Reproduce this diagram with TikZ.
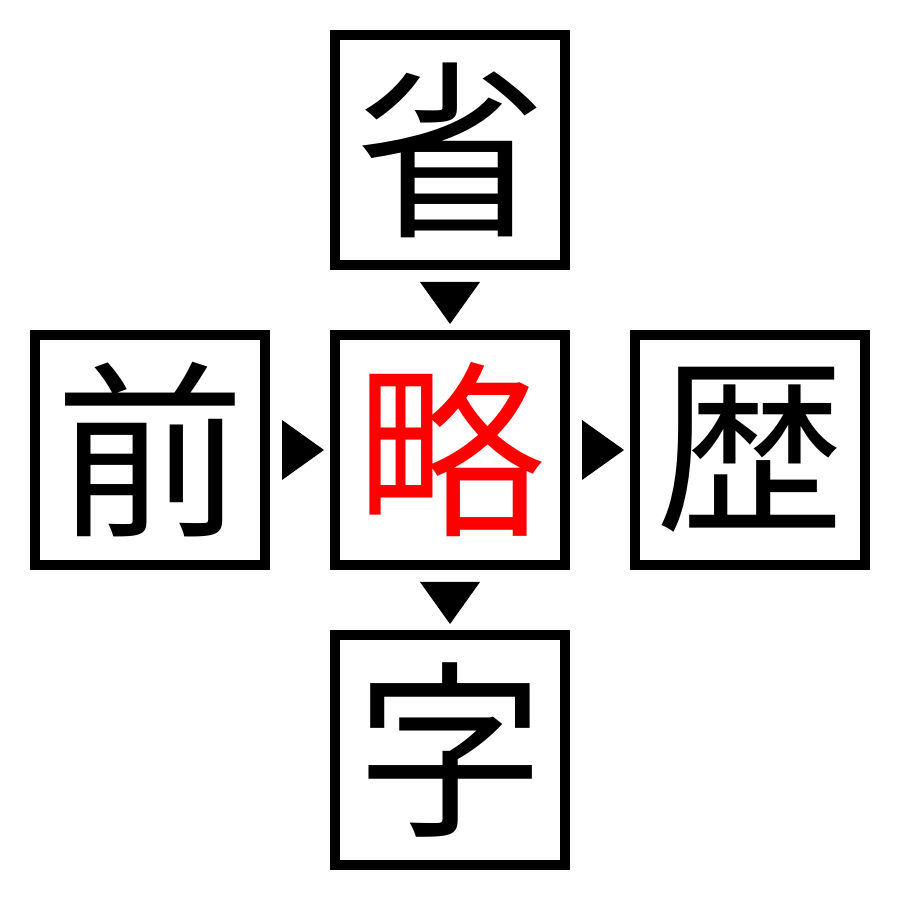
\documentclass[tikz,border=0pt]{standalone}
\usepackage{fontspec}
\newfontfamily\jpfont{Noto Sans CJK JP}
\usetikzlibrary{positioning,calc}

\begin{document}
\begin{tikzpicture}[box/.style={draw=black,line width=1mm,minimum size=2.3cm,inner sep=0pt,
    font=\jpfont\fontsize{54}{54}\selectfont}, node distance=0.6cm]
\useasboundingbox (0,0) rectangle (9,9);
\node[box]    (mid)  at (4.5,4.5)  {\textcolor{red}{略}};
\node[box]    (top)  [above=of mid] {省};
\node[box]    (bot)  [below=of mid] {字};
\node[box]    (left) [left=of mid]  {前};
\node[box]    (right)[right=of mid] {歴};
% markers
\fill ($(top.south)+(-0.3,-0.12)$) -- ++(0.6,0) -- ($(mid.north)+(0,0.06)$) -- cycle;
\fill ($(mid.south)+(-0.3,-0.12)$) -- ++(0.6,0) -- ($(bot.north)+(0,0.06)$) -- cycle;
\fill ($(left.east)+(0.12,0.3)$) -- ++(0,-0.6) -- ($(mid.west)+(-0.06,0)$) -- cycle;
\fill ($(mid.east)+(0.12,0.3)$) -- ++(0,-0.6) -- ($(right.west)+(-0.06,0)$) -- cycle;
\end{tikzpicture}
\end{document}
